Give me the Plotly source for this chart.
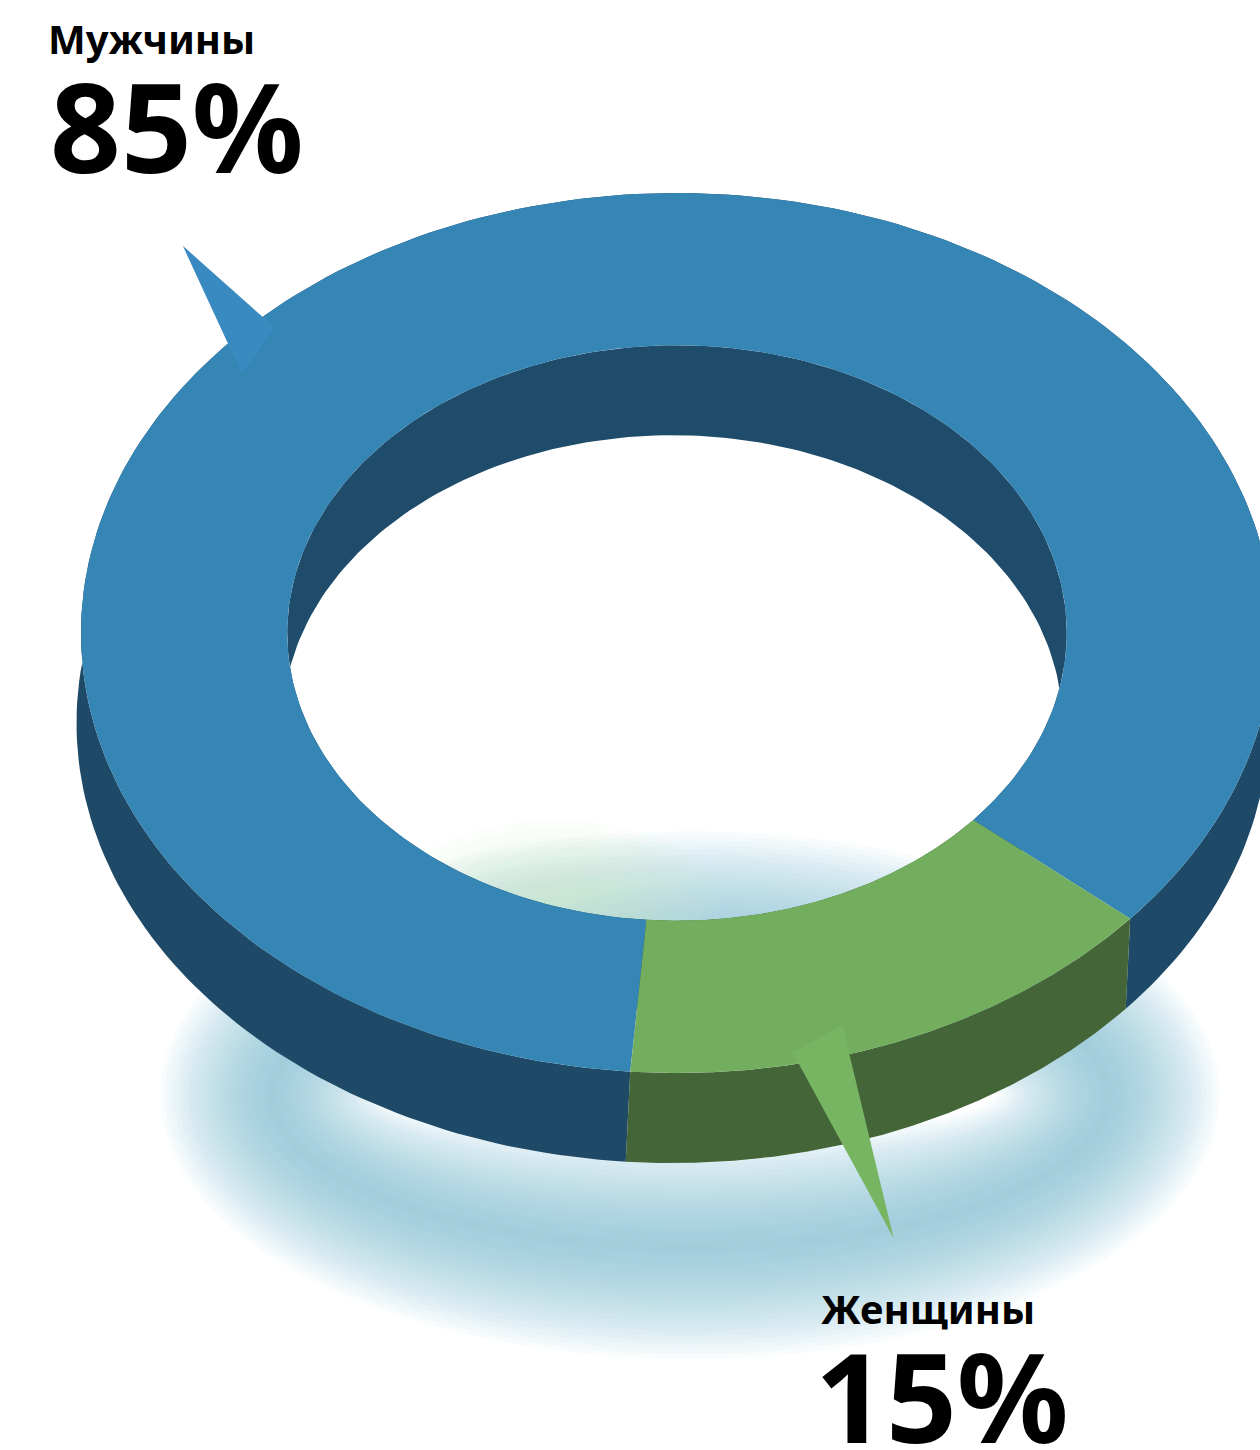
import numpy as np
import plotly.graph_objects as go

# ---------------- data ----------------
categories = ["Мужчины", "Женщины"]
values = [85, 15]
value_labels = ["85%", "15%"]

# ---------------- style / geometry (pixels on hidden 1:1 axes) ----------------
TOP_COLORS = ["#3585B5", "#72AE5E"]
WALL_COLORS = ["#1E4A67", "#436537"]
INNER_WALL_COLORS = ["#1F4C6A", "#436537"]
ARROW_COLORS = ["#3A8AC2", "#77B563"]

CX, CY = 677.0, 633.0      # centre of the ring top face
RX, RY = 596.0, 440.0      # outer radii of the top face
HOLE = 0.654               # inner radius fraction
DX, DY = -4.5, 90.0        # extrusion (depth) vector
START = 94.5               # first slice start angle (deg, clockwise on screen)

W, H = 1260, 1450


def pt(phi_deg, r, dz=0.0):
    p = np.radians(phi_deg)
    return CX + RX * r * np.cos(p) + DX * dz, CY + RY * r * np.sin(p) + DY * dz


def arc(a0, a1, r, dz=0.0, n=240):
    phis = np.linspace(a0, a1, n)
    x, y = pt(phis, r, dz)
    return list(x), list(y)


fig = go.Figure()


def poly(x, y, color, opacity=1.0):
    fig.add_trace(go.Scatter(
        x=x + [x[0]], y=y + [y[0]], mode="lines", fill="toself",
        fillcolor=color, line=dict(width=0, color=color), opacity=opacity,
        hoverinfo="skip", showlegend=False))


def ellipse(cx, cy, rx, ry, n=200, reverse=False):
    t = np.linspace(0, 2 * np.pi, n)
    if reverse:
        t = t[::-1]
    return list(cx + rx * np.cos(t)), list(cy + ry * np.sin(t))


# ---------------- soft shadow under the ring ----------------
SH_CX, SH_CY, SH_A, SH_B, SH_W = 690.0, 1095.0, 418.0, 152.0, 112.0
K = 24
for k in range(1, K + 1):
    w = SH_W * k / K
    ox, oy = ellipse(SH_CX, SH_CY, SH_A + w, SH_B + w)
    ix, iy = ellipse(SH_CX, SH_CY, max(SH_A - w, 5), max(SH_B - w, 5), reverse=True)
    poly(ox + ix, oy + iy, "#8AB6DE", 0.048)

# greenish tint of the shadow seen through the hole
for k in range(1, 11):
    f = k / 10
    ex, ey = ellipse(555, 905, 165 * f, 85 * f)
    poly(ex, ey, "#D2EBC4", 0.075)

# ---------------- slices ----------------
total = float(sum(values))
angles = []
a = START
for v in values:
    span = 360.0 * v / total
    angles.append((a, a + span))
    a += span

# walls (outer and inner), drawn before the top faces
for i, (a0, a1) in enumerate(angles):
    tx, ty = arc(a0, a1, 1.0)
    bx, by = arc(a1, a0, 1.0, dz=1.0)
    poly(tx + bx, ty + by, WALL_COLORS[i])
for i, (a0, a1) in enumerate(angles):
    tx, ty = arc(a0, a1, HOLE)
    bx, by = arc(a1, a0, HOLE, dz=1.0)
    poly(tx + bx, ty + by, INNER_WALL_COLORS[i])

# top faces
for i, (a0, a1) in enumerate(angles):
    ox, oy = arc(a0, a1, 1.0)
    ix, iy = arc(a1, a0, HOLE)
    poly(ox + ix, oy + iy, TOP_COLORS[i])

# ---------------- callout pointers (angle, radius fraction) ----------------
POINTERS = [
    [(226.7, 1.209), (225.8, 0.968), (218.9, 0.938)],
    [(75.2, 1.423), (78.5, 0.973), (72.7, 0.933)],
]
for i, tri in enumerate(POINTERS):
    xs, ys = [], []
    for phi, r in tri:
        x, y = pt(phi, r)
        xs.append(float(x))
        ys.append(float(y))
    poly(xs, ys, ARROW_COLORS[i])

# ---------------- labels ----------------
LABEL_POS = [(46, 9, 48, 38), (819, 1279, 813, 1308)]
for i, (cat, lab) in enumerate(zip(categories, value_labels)):
    x1, y1, x2, y2 = LABEL_POS[i]
    fig.add_annotation(x=x1, y=y1, xref="x", yref="y", xanchor="left", yanchor="top",
                       text=cat, showarrow=False,
                       font=dict(family="Noto Sans", size=40, color="#000000", weight=700))
    fig.add_annotation(x=x2, y=y2, xref="x", yref="y", xanchor="left", yanchor="top",
                       text=lab, showarrow=False,
                       font=dict(family="Noto Sans", size=124, color="#000000", weight=700))

fig.update_layout(
    width=W, height=H, autosize=False,
    margin=dict(l=0, r=0, t=0, b=0, pad=0),
    paper_bgcolor="white", plot_bgcolor="white",
    xaxis=dict(range=[0, W], visible=False, fixedrange=True),
    yaxis=dict(range=[H, 0], visible=False, fixedrange=True),
    showlegend=False, hovermode=False,
)

fig.write_html("out.html", config={"displayModeBar": False})
